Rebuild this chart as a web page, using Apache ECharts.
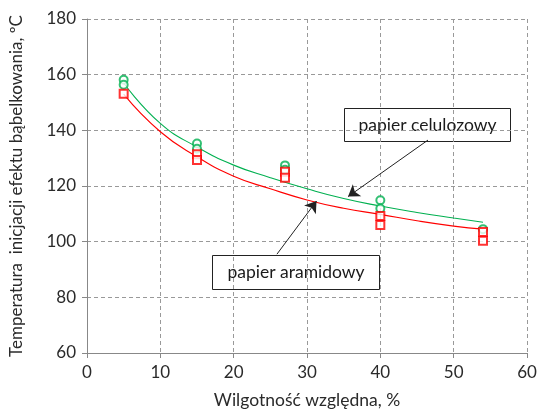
<!DOCTYPE html>
<html>
<head>
<meta charset="utf-8">
<script src="https://cdn.jsdelivr.net/npm/echarts@6/dist/echarts.min.js"></script>
<style>
html, body { margin: 0; padding: 0; background: #fff; }
#main { width: 541px; height: 414px; }
</style>
</head>
<body>
<div id="main"></div>
<script>
// pomiary: papier celulozowy (zielone kółka)
var celX = [5, 5, 15, 15, 27, 27, 40, 40, 54];
var celY = [158.2, 156.4, 135.3, 133.4, 127.4, 125.8, 114.9, 111.9, 104.5];
// pomiary: papier aramidowy (czerwone kwadraty)
var araX = [5, 15, 15, 27, 27, 40, 40, 54, 54];
var araY = [153.1, 131.4, 129.3, 125.1, 123.0, 109.2, 106.0, 103.5, 100.3];

// linie trendu
var trendX = [5, 10, 15, 20, 25, 30, 35, 40, 45, 50, 54];
var celTrend = [157, 142.5, 134, 127.5, 123, 119, 115.5, 112.8, 110.5, 108.5, 107];
var araTrend = [153, 139.5, 130.5, 123.5, 119, 115, 112, 109.8, 107.5, 105.6, 104.5];

var xTicks = [0, 10, 20, 30, 40, 50, 60];
var yTicks = [60, 80, 100, 120, 140, 160, 180];

// strzałki od opisów (współrzędne w jednostkach osi)
var celArrow = [[46.5, 136.5], [35.6, 116.2]];
var araArrow = [[25.9, 95.5], [31.3, 114.6]];

function pairs(xs, ys) {
    var out = [];
    for (var i = 0; i < xs.length; i++) {
        out.push([xs[i], ys[i]]);
    }
    return out;
}

var font = 'Lato, "Open Sans", sans-serif';
var green = '#00b050';
var red = '#ff0000';

var chart = echarts.init(document.getElementById('main'));

var option = {
    animation: false,
    grid: {
        left: 87,
        right: 14,
        top: 19,
        bottom: 60
    },
    xAxis: {
        type: 'value',
        min: xTicks[0],
        max: xTicks[xTicks.length - 1],
        interval: 10,
        name: 'Wilgotność względna, %',
        nameLocation: 'middle',
        nameGap: 38,
        nameTextStyle: { fontFamily: font, fontSize: 17.5, color: '#2a2a2a' },
        axisLine: { lineStyle: { color: '#888', width: 1 } },
        axisTick: { show: true, length: 5, lineStyle: { color: '#888' } },
        axisLabel: { fontFamily: font, fontSize: 17, color: '#2a2a2a', margin: 11 },
        splitLine: { show: true, lineStyle: { color: '#999', type: [4, 3], width: 1 } }
    },
    yAxis: {
        type: 'value',
        min: yTicks[0],
        max: yTicks[yTicks.length - 1],
        interval: 20,
        name: 'Temperatura  inicjacji efektu bąbelkowania, ºC',
        nameLocation: 'middle',
        nameGap: 62,
        nameTextStyle: { fontFamily: font, fontSize: 17, color: '#2a2a2a' },
        axisLine: { show: true, lineStyle: { color: '#888', width: 1 } },
        axisTick: { show: true, length: 5, lineStyle: { color: '#888' } },
        axisLabel: { fontFamily: font, fontSize: 17, color: '#2a2a2a', margin: 11 },
        splitLine: { show: true, lineStyle: { color: '#999', type: [4, 3], width: 1 } }
    },
    series: [
        {
            name: 'celulozowy trend',
            type: 'line',
            data: pairs(trendX, celTrend),
            smooth: true,
            showSymbol: false,
            silent: true,
            lineStyle: { color: green, width: 1.1 },
            z: 2
        },
        {
            name: 'aramidowy trend',
            type: 'line',
            data: pairs(trendX, araTrend),
            smooth: true,
            showSymbol: false,
            silent: true,
            lineStyle: { color: red, width: 1.1 },
            z: 2,
            markLine: {
                silent: true,
                symbol: ['none', 'arrow'],
                symbolSize: 11,
                label: { show: false },
                lineStyle: { color: '#222', width: 1, type: 'solid' },
                data: [
                    [{ coord: celArrow[0] }, { coord: celArrow[1] }],
                    [{ coord: araArrow[0] }, { coord: araArrow[1] }]
                ]
            }
        },
        {
            name: 'papier celulozowy',
            type: 'scatter',
            data: pairs(celX, celY),
            symbol: 'emptyCircle',
            symbolSize: 8,
            itemStyle: { color: green, borderColor: green, borderWidth: 1.8 },
            z: 3
        },
        {
            name: 'papier aramidowy',
            type: 'scatter',
            data: pairs(araX, araY),
            symbol: 'emptyRect',
            symbolSize: 8,
            itemStyle: { color: red, borderColor: red, borderWidth: 1.8 },
            z: 4
        }
    ],
    graphic: [
        {
            type: 'group',
            z: 100,
            children: [
                {
                    type: 'rect',
                    shape: { x: 344.5, y: 108.5, width: 166, height: 33 },
                    style: { fill: '#fff', stroke: '#222', lineWidth: 1 }
                },
                {
                    type: 'text',
                    x: 427.5, y: 125,
                    style: {
                        text: 'papier celulozowy',
                        font: '17.5px ' + font,
                        fill: '#1a1a1a',
                        align: 'center',
                        verticalAlign: 'middle'
                    }
                },
                {
                    type: 'rect',
                    shape: { x: 212.5, y: 255.5, width: 167, height: 34 },
                    style: { fill: '#fff', stroke: '#222', lineWidth: 1 }
                },
                {
                    type: 'text',
                    x: 296, y: 272.5,
                    style: {
                        text: 'papier aramidowy',
                        font: '17.5px ' + font,
                        fill: '#1a1a1a',
                        align: 'center',
                        verticalAlign: 'middle'
                    }
                }
            ]
        }
    ]
};

chart.setOption(option);
</script>
</body>
</html>
